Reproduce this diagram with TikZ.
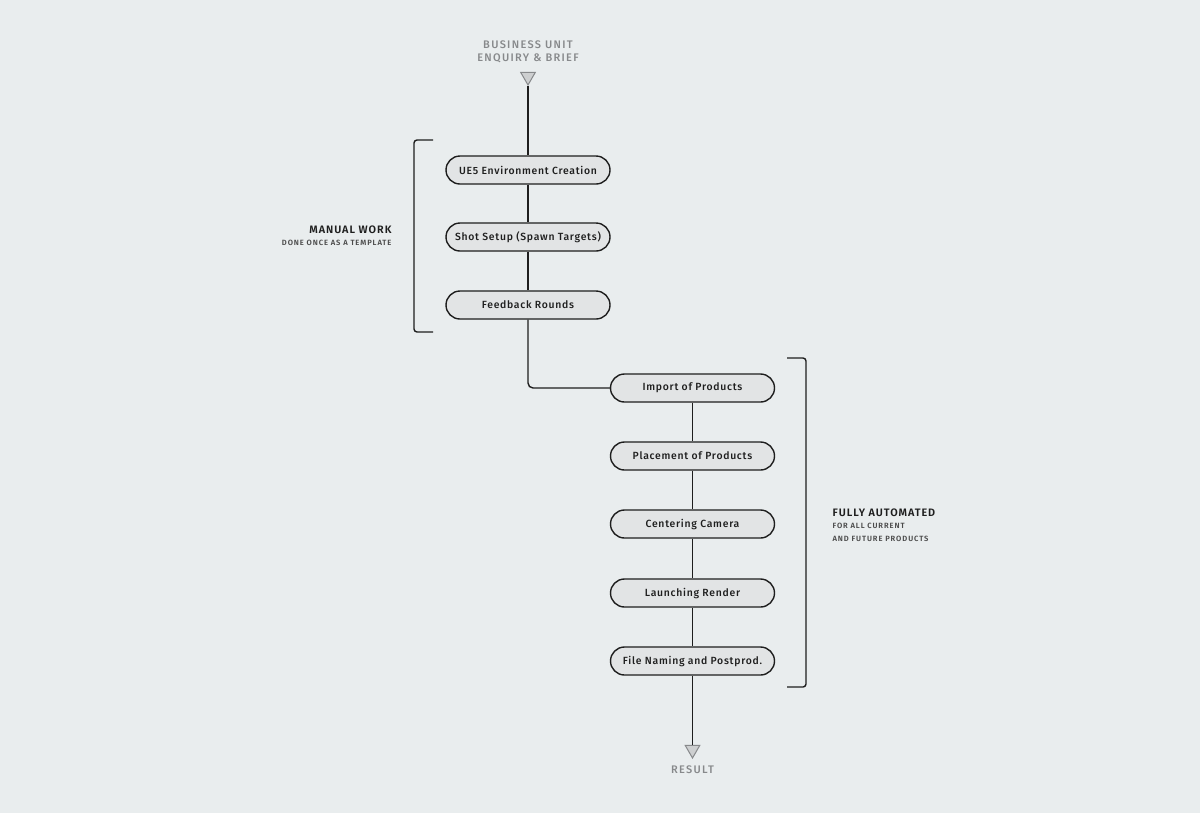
\documentclass[tikz,border=0pt]{standalone}
\usepackage{fontspec}
\setmainfont{Fira Sans}[LetterSpace=8]
\newfontfamily\stepFont{Fira Sans Medium}[LetterSpace=7]
\newfontfamily\grayFont{Fira Sans Medium}[LetterSpace=12]
\newfontfamily\headFont{Fira Sans SemiBold}[LetterSpace=9]
\newfontfamily\noteFont{Fira Sans SemiBold}[LetterSpace=12]
\usetikzlibrary{shapes.geometric}
\definecolor{bgGray}{RGB}{233,237,238}
\definecolor{stepFill}{RGB}{226,228,229}
\definecolor{inkBlack}{RGB}{30,30,30}
\definecolor{textGray}{RGB}{135,137,139}
\definecolor{tipFill}{RGB}{205,207,208}
\begin{document}
\begin{tikzpicture}
[x=1pt,y=-1pt,
  lineDecorate/.style={-,line width=1.4pt,draw=inkBlack},%
  stepDecorate/.style={shape=rectangle,rounded corners=14pt,draw=inkBlack,line width=1.4pt,
    fill=stepFill,minimum width=164pt,minimum height=28pt,inner sep=0pt,
    font=\stepFont\fontsize{10.4}{12}\selectfont,text=inkBlack},
  tipDecorate/.style={regular polygon,regular polygon sides=3,shape border rotate=180,
    draw=textGray,fill=tipFill,line width=1pt,minimum size=17pt,inner sep=0pt},
  bracketDecorate/.style={line width=1.4pt,draw=inkBlack,rounded corners=3pt},
  headDecorate/.style={font=\headFont\fontsize{10.8}{12}\selectfont,text=inkBlack},
  noteDecorate/.style={font=\noteFont\fontsize{7.6}{9}\selectfont,text=inkBlack!80},
  grayDecorate/.style={font=\grayFont\fontsize{11}{12}\selectfont,text=textGray}]
\useasboundingbox (0,0) rectangle (1200,812);
\fill[bgGray] (-5,-5) rectangle (1205,817);
%% steps
\foreach \nodename/\x/\y/\txt in {
  env/528/170/UE5 Environment Creation, shot/528/237/Shot Setup (Spawn Targets),
  feedback/528/305/Feedback Rounds, import/692.5/388/Import of Products,
  place/692.5/456/Placement of Products, camera/692.5/524/Centering Camera,
  render/692.5/593/Launching Render, naming/692.5/661/File Naming and Postprod.}
{
  \node (\nodename) at (\x,\y) [stepDecorate] {\txt};
}
%% start and end
\node (briefTip) at (528,76.5) [tipDecorate] {};
\node (resultTip) at (692.5,749.5) [tipDecorate] {};
\node (brief2) at (528,61) [anchor=base,grayDecorate] {ENQUIRY \& BRIEF};
\node (brief1) at (528,48) [anchor=base,grayDecorate] {BUSINESS UNIT};
\node (result) at (692.5,773) [anchor=base,grayDecorate] {RESULT};
%% connectors
\path
\foreach \startnode/\endnode in {
  briefTip/env, env/shot, shot/feedback, import/place, place/camera,
  camera/render, render/naming, naming/resultTip}
{
  (\startnode) edge[lineDecorate] (\endnode)
};
\draw[lineDecorate,rounded corners=5pt] (feedback.south) |- (import.west);
%% brackets
\draw[bracketDecorate] (433,140) -- (414,140) -- (414,332) -- (433,332);
\draw[bracketDecorate] (787,358) -- (806,358) -- (806,687) -- (787,687);
%% labels
\node (manual) at (395,233) [anchor=base east,headDecorate] {MANUAL WORK};
\node (manualNote) at (395,245) [anchor=base east,noteDecorate] {DONE ONCE AS A TEMPLATE};
\node (auto) at (829,516) [anchor=base west,headDecorate] {FULLY AUTOMATED};
\node (autoNote1) at (829,528.5) [anchor=base west,noteDecorate] {FOR ALL CURRENT};
\node (autoNote2) at (829,541.5) [anchor=base west,noteDecorate] {AND FUTURE PRODUCTS};
\end{tikzpicture}
\end{document}
